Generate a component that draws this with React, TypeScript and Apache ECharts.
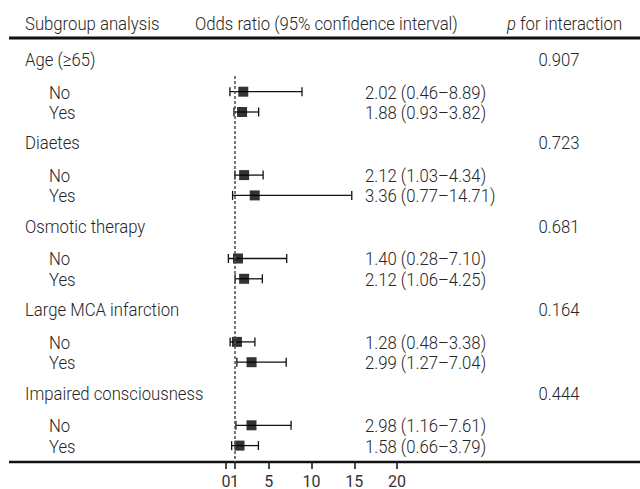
import React, { useEffect, useRef } from "react";
import * as echarts from "echarts";

const groups = ["Age (≥65)", "Diaetes", "Osmotic therapy", "Large MCA infarction", "Impaired consciousness"];
const pInteraction = ["0.907", "0.723", "0.681", "0.164", "0.444"];
const subLabels = ["No", "Yes"];
const oddsRatio = [2.02, 1.88, 2.12, 3.36, 1.4, 2.12, 1.28, 2.99, 2.98, 1.58];
const ciLower = [0.46, 0.93, 1.03, 0.77, 0.28, 1.06, 0.48, 1.27, 1.16, 0.66];
const ciUpper = [8.89, 3.82, 4.34, 14.71, 7.1, 4.25, 3.38, 7.04, 7.61, 3.79];
const xTicks = [0, 1, 5, 10, 15, 20];
const refValue = 1;

const FONT = "Roboto, 'Noto Sans', sans-serif";
const TEXT = "#262626";
const FS = 19;
const SX = 0.88;

// layout (pixel rows)
const W = 640;
const H = 489;
const FIRST_GROUP_Y = 59;
const HEADER_TO_NO = 32.7;
const NO_TO_YES = 20.3;
const YES_TO_NEXT = 30.4;
const AXIS_Y = 462;
const HEADER_Y = 23;
const HEADER_LINE_Y = 38;
const PLOT_LEFT = 226;
const PLOT_RIGHT = 397;
const DASH_TOP = 76;
const COL_GROUP = 25;
const COL_SUB = 49;
const COL_OR_HEADER = 195;
const COL_CI = 365;
const COL_P_HEADER = 507;
const COL_P = 559;

function layoutRows() {
  const groupY: number[] = [];
  const rowY: number[] = [];
  let y = FIRST_GROUP_Y;
  groups.forEach(() => {
    groupY.push(y);
    const no = y + HEADER_TO_NO;
    const yes = no + NO_TO_YES;
    rowY.push(no, yes);
    y = yes + YES_TO_NEXT;
  });
  return { groupY, rowY };
}

function makeXAxis(values: number[]) {
  return {
    type: "value",
    position: "bottom",
    offset: 0,
    min: 0,
    max: 20,
    axisLine: { show: false, onZero: false },
    splitLine: { show: false },
    axisTick: { show: true, customValues: values, length: 7, lineStyle: { color: "#111", width: 1.5 } },
    axisLabel: {
      customValues: values,
      margin: 11,
      fontSize: 16,
      fontFamily: FONT,
      color: "#333",
      showMinLabel: true,
      showMaxLabel: true,
      hideOverlap: false,
    },
  };
}

export default function App() {
  const ref = useRef<HTMLDivElement>(null);
  useEffect(() => {
    document.body.style.margin = "0";
    if (!ref.current) return;
    const chart = echarts.init(ref.current, undefined, { renderer: "svg" });
    const { groupY, rowY } = layoutRows();

    const txt = (x: number, y: number, text: string, extra: any = {}) => ({
      type: "text",
      x,
      y,
      scaleX: SX,
      style: {
        text,
        fill: TEXT,
        fontSize: FS,
        fontFamily: FONT,
        fontWeight: 300,
        verticalAlign: "middle",
        ...extra,
      },
    });

    const graphics: any[] = [];
    graphics.push(txt(COL_GROUP, HEADER_Y, "Subgroup analysis"));
    graphics.push(txt(COL_OR_HEADER, HEADER_Y, "Odds ratio (95% confidence interval)"));
    graphics.push(
      txt(COL_P_HEADER, HEADER_Y, "{i|p} for interaction", {
        rich: { i: { fontStyle: "italic", fontSize: FS, fontFamily: FONT, fontWeight: 300, fill: TEXT } },
      })
    );
    graphics.push({ type: "line", shape: { x1: 9, y1: HEADER_LINE_Y, x2: W, y2: HEADER_LINE_Y }, style: { stroke: "#111", lineWidth: 3 } });
    graphics.push({ type: "line", shape: { x1: 9, y1: AXIS_Y, x2: W, y2: AXIS_Y }, style: { stroke: "#111", lineWidth: 2.5 } });

    groups.forEach((g, gi) => {
      graphics.push(txt(COL_GROUP, groupY[gi], g));
      graphics.push(txt(COL_P, groupY[gi], pInteraction[gi], { align: "center" }));
      subLabels.forEach((s, si) => {
        const idx = gi * 2 + si;
        graphics.push(txt(COL_SUB, rowY[idx], s));
        graphics.push(
          txt(COL_CI, rowY[idx], `${oddsRatio[idx].toFixed(2)} (${ciLower[idx].toFixed(2)}–${ciUpper[idx].toFixed(2)})`)
        );
      });
    });

    const ciData = oddsRatio.map((_, i) => [ciLower[i], ciUpper[i], rowY[i]]);
    const orData = oddsRatio.map((v, i) => [v, rowY[i]]);

    chart.setOption({
      animation: false,
      grid: { left: PLOT_LEFT, right: W - PLOT_RIGHT, top: 0, height: AXIS_Y, containLabel: false },
      xAxis: [makeXAxis(xTicks.filter((v) => v !== refValue)), makeXAxis([refValue])],
      yAxis: { type: "value", min: 0, max: AXIS_Y, inverse: true, show: false },
      series: [
        {
          type: "custom",
          data: ciData,
          encode: { x: [0, 1], y: 2 },
          renderItem: (params: any, api: any) => {
            const lo = api.coord([api.value(0), api.value(2)]);
            const hi = api.coord([api.value(1), api.value(2)]);
            const cap = 4.5;
            const st = { stroke: "#111", lineWidth: 1.3 };
            return {
              type: "group",
              children: [
                { type: "line", shape: { x1: lo[0], y1: lo[1], x2: hi[0], y2: hi[1] }, style: st },
                { type: "line", shape: { x1: lo[0], y1: lo[1] - cap, x2: lo[0], y2: lo[1] + cap }, style: st },
                { type: "line", shape: { x1: hi[0], y1: hi[1] - cap, x2: hi[0], y2: hi[1] + cap }, style: st },
              ],
            };
          },
          z: 2,
        },
        {
          type: "scatter",
          data: orData,
          symbol: "rect",
          symbolSize: 10,
          itemStyle: { color: "#000" },
          z: 3,
          markLine: {
            silent: true,
            symbol: "none",
            label: { show: false },
            lineStyle: { type: [3, 2], color: "#555", width: 1.6 },
            data: [[{ coord: [refValue, DASH_TOP] }, { coord: [refValue, AXIS_Y] }]],
          },
        },
      ],
      graphic: graphics,
    });
    return () => chart.dispose();
  }, []);
  return <div ref={ref} style={{ width: W, height: H }} />;
}
